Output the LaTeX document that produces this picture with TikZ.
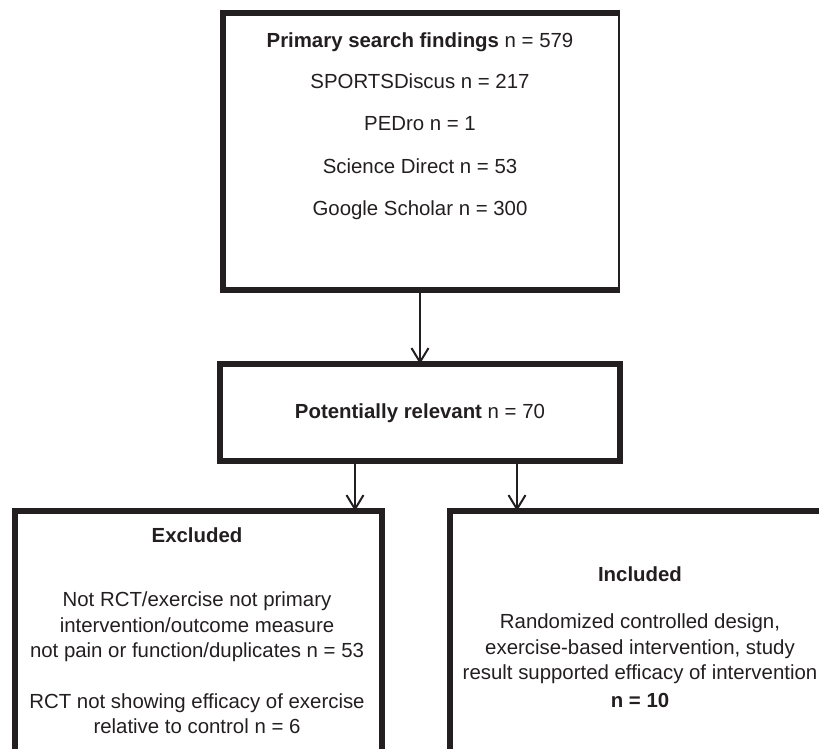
\documentclass[tikz,border=0pt]{standalone}
\usepackage{fontspec}
\setmainfont{Liberation Sans}
\usetikzlibrary{arrows.meta}
\definecolor{ink}{RGB}{35,31,32}
\begin{document}
\begin{tikzpicture}[x=1pt,y=-1pt,
  frame/.style={draw=none, inner sep=0pt, outer sep=0pt},
  box/.style={draw=ink, line width=6pt, inner sep=0pt, outer sep=0pt},
  border/.style={draw=ink, line width=6pt},
  thinborder/.style={draw=ink, line width=1.6pt},
  txt/.style={anchor=base, text=ink, inner sep=0pt, font=\fontsize{20.4}{25}\selectfont},
  arr/.style={draw=ink, line width=2pt, -{Straight Barb[length=14pt,width=17pt]}}]
\useasboundingbox (0,0) rectangle (819,749);
\clip (0,0) rectangle (819,749);
% boxes
\node[frame, minimum width=396pt, minimum height=277pt] (top) at (421,151.5) {};
\draw[border] (top.north east) -- (top.north west) -- (top.south west) -- (top.south east);
\draw[thinborder] ([yshift=3pt]top.north east) -- ([yshift=-3pt]top.south east);
\node[box, minimum width=400pt, minimum height=97pt] (mid) at (420,412.5) {};
\node[box, minimum width=367pt, minimum height=289pt] (excl) at (198.5,655.5) {};
\node[box, minimum width=380pt, minimum height=289pt] (incl) at (640,655.5) {};
% connectors
\coordinate (xl) at (355,0);
\coordinate (xr) at (517,0);
\draw[arr] (top.south -| mid.north) -- (mid.north);
\draw[arr] (mid.south -| xl) -- (excl.north -| xl);
\draw[arr] (mid.south -| xr) -- (incl.north -| xr);
% texts top
\node[txt] (t1) at (420,48) {\textbf{Primary search findings} n = 579};
\node[txt] (t2) at (420,89) {SPORTSDiscus n = 217};
\node[txt] (t3) at (420,131) {PEDro n = 1};
\node[txt] (t4) at (420,173) {Science Direct n = 53};
\node[txt] (t5) at (420,215) {Google Scholar n = 300};
% middle
\node[txt] (m1) at (420,418) {\textbf{Potentially relevant} n = 70};
% excluded
\node[txt] (e0) at (197,542) {\textbf{Excluded}};
\node[txt] (e1) at (197,606) {Not RCT/exercise not primary};
\node[txt] (e2) at (197,632) {intervention/outcome measure};
\node[txt] (e3) at (197,657) {not pain or function/duplicates n = 53};
\node[txt] (e4) at (197,708) {RCT not showing efficacy of exercise};
\node[txt] (e5) at (197,733) {relative to control n = 6};
% included
\node[txt] (i0) at (640,581) {\textbf{Included}};
\node[txt] (i1) at (640,628) {Randomized controlled design,};
\node[txt] (i2) at (640,654) {exercise-based intervention, study};
\node[txt] (i3) at (640,679) {result supported efficacy of intervention};
\node[txt] (i4) at (640,707) {\textbf{n = 10}};
\end{tikzpicture}
\end{document}
